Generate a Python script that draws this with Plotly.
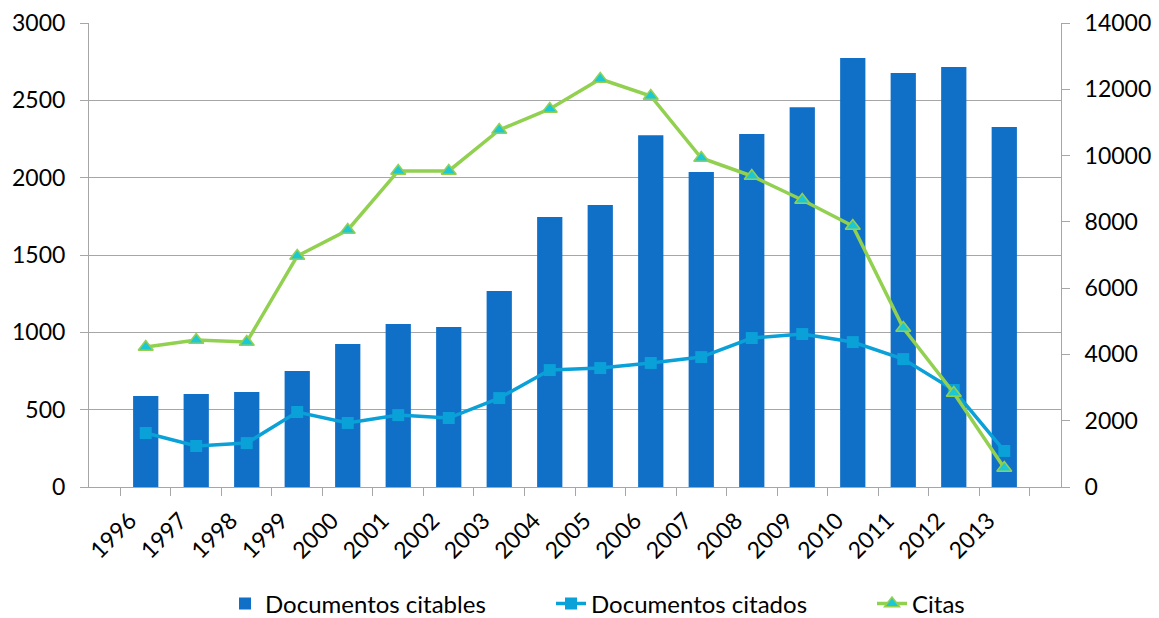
import plotly.graph_objects as go

years = [str(y) for y in range(1996, 2014)]
doc_citables = [588, 601, 614, 750, 924, 1054, 1034, 1267, 1745, 1823, 2275, 2036, 2282, 2456, 2773, 2676, 2715, 2327]
doc_citados = [349, 265, 284, 485, 414, 465, 446, 575, 756, 769, 802, 840, 963, 989, 937, 827, 627, 233]
citas = [4224, 4436, 4375, 6970, 7755, 9535, 9535, 10772, 11406, 12311, 11798, 9927, 9384, 8660, 7876, 4798, 2836, 573]

left_ticks = [0, 500, 1000, 1500, 2000, 2500, 3000]
right_ticks = [0, 2000, 4000, 6000, 8000, 10000, 12000, 14000]

FONT = "Lato, 'Open Sans', sans-serif"
GRID = "#A6A6A6"

fig = go.Figure()
fig.add_trace(go.Bar(x=years, y=doc_citables, name="Documentos citables", legendwidth=281,
                     marker=dict(color="#106FC6", line=dict(width=0)), width=0.5))
fig.add_trace(go.Scatter(x=years, y=doc_citados, name="Documentos citados", mode="lines+markers",
                         legendwidth=276,
                         line=dict(color="#0AA0D8", width=3.5),
                         marker=dict(symbol="square", size=12, color="#0AA0D8")))
fig.add_trace(go.Scatter(x=years, y=citas, name="Citas", mode="lines+markers", yaxis="y2",
                         line=dict(color="#92D050", width=3.5),
                         marker=dict(symbol="triangle-up", size=13, color="#1CC8D6",
                                     line=dict(color="#92D050", width=1.5))))

fig.update_layout(
    width=1159, height=618,
    margin=dict(l=89, r=98, t=23, b=131, autoexpand=False),
    plot_bgcolor="white", paper_bgcolor="white",
    font=dict(family=FONT, size=23, color="black"),
    showlegend=True,
    legend=dict(orientation="h", xref="container", yref="container",
                x=225 / 1159, xanchor="left", y=1 - 604 / 618, yanchor="middle",
                font=dict(size=24), traceorder="normal"),
    xaxis=dict(type="category", tickangle=-45, ticks="outside", tickson="boundaries",
               ticklen=8, tickcolor=GRID, showline=True, linecolor=GRID, linewidth=1,
               showgrid=False, tickfont=dict(size=23), automargin=False,
               ticklabelshift=-16, ticklabelstandoff=10),
    yaxis=dict(range=[0, 3000], tickvals=left_ticks, ticktext=[str(v) for v in left_ticks],
               showgrid=True, gridcolor=GRID, gridwidth=1,
               showline=True, linecolor=GRID, ticks="outside", ticklen=8, tickcolor=GRID,
               ticklabelstandoff=10,
               zeroline=False, tickfont=dict(size=23), automargin=False),
    yaxis2=dict(range=[0, 14000], tickvals=right_ticks, ticktext=[str(v) for v in right_ticks],
                overlaying="y", side="right", ticklabelstandoff=10,
                showgrid=False, showline=True, linecolor=GRID, ticks="outside", ticklen=8,
                tickcolor=GRID, zeroline=False, tickfont=dict(size=23), automargin=False),
)

fig.write_html("out.html", config={"displayModeBar": False},
               post_script="document.body.style.margin='0';")
